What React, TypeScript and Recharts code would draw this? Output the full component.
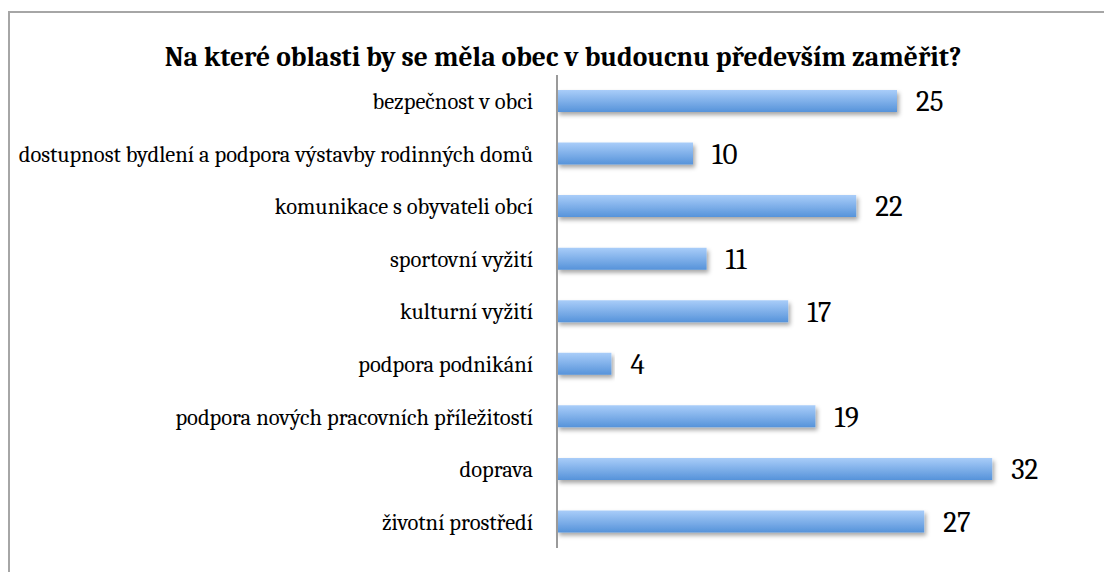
import { BarChart, Bar, XAxis, YAxis, LabelList } from "recharts"

const categories = [
  "bezpečnost v obci",
  "dostupnost bydlení a podpora výstavby rodinných domů",
  "komunikace s obyvateli obcí",
  "sportovní vyžití",
  "kulturní vyžití",
  "podpora podnikání",
  "podpora nových pracovních příležitostí",
  "doprava",
  "životní prostředí",
]
const counts = [25, 10, 22, 11, 17, 4, 19, 32, 27]
const title = "Na které oblasti by se měla obec v budoucnu především zaměřit?"

const chartData = categories.map((name, i) => ({ name, value: counts[i] }))

const serif = "Cambria, 'Liberation Serif', 'DejaVu Serif', serif"

export default function App() {
  return (
    <div style={{ position: "absolute", left: 0, top: 0, width: 1104, height: 572, background: "#fff" }}>
      {/* frame around the chart */}
      <div
        style={{
          position: "absolute",
          left: 8,
          top: 11,
          width: 1110,
          height: 580,
          border: "2px solid #a6a6a6",
        }}
      />
      <div
        style={{
          position: "absolute",
          left: 0,
          top: 40,
          width: 1126,
          textAlign: "center",
          fontFamily: serif,
          fontWeight: "bold",
          fontSize: 27.5,
          lineHeight: "34px",
          color: "#000",
        }}
      >
        {title}
      </div>
      <div style={{ position: "absolute", left: 0, top: 0 }}>
        <BarChart
          width={1104}
          height={572}
          data={chartData}
          layout="vertical"
          margin={{ top: 75, right: 71, bottom: 24, left: 0 }}
          barSize={22}
        >
          <defs>
            <linearGradient id="barFill" x1="0" y1="0" x2="0" y2="1">
              <stop offset="0%" stopColor="#a9cdf9" />
              <stop offset="100%" stopColor="#5693da" />
            </linearGradient>
            <filter id="barShadow" x="-5%" y="-30%" width="110%" height="180%">
              <feDropShadow dx="2" dy="3" stdDeviation="2" floodColor="#000" floodOpacity="0.35" />
            </filter>
          </defs>
          <XAxis type="number" domain={[0, 35]} hide />
          <YAxis
            type="category"
            dataKey="name"
            width={557}
            tickLine={false}
            tickSize={0}
            tickMargin={24}
            axisLine={{ stroke: "#9a9a9a", strokeWidth: 2 }}
            tick={{ fill: "#000", fontSize: 22.5, fontFamily: serif }}
            interval={0}
          />
          <Bar dataKey="value" fill="url(#barFill)" filter="url(#barShadow)" isAnimationActive={false}>
            <LabelList
              dataKey="value"
              position="right"
              offset={19}
              style={{ fill: "#000", fontSize: 29, fontFamily: serif }}
            />
          </Bar>
        </BarChart>
      </div>
    </div>
  )
}
